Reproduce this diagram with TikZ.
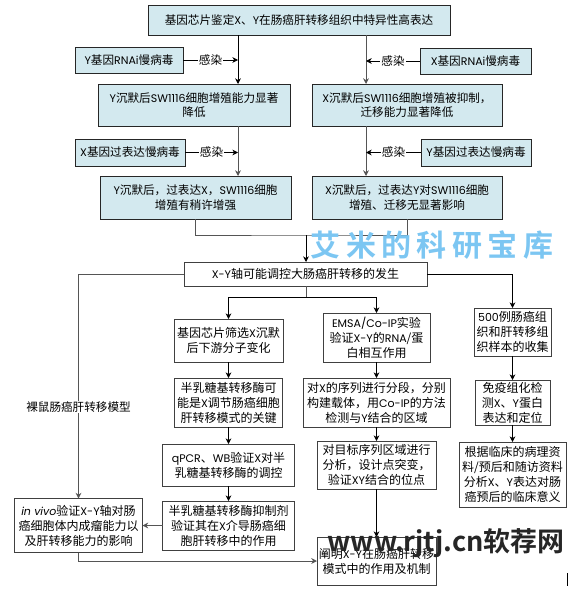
\documentclass[tikz,border=0pt]{standalone}
\usepackage{fontspec}
\usepackage{xcolor}
\usetikzlibrary{arrows.meta,positioning}
\setmainfont{Noto Sans CJK SC}
\newfontfamily\latinfont{Poppins}
\newfontfamily\markfont[LetterSpace=18]{Noto Sans CJK SC Bold}
\newfontfamily\webfont{Noto Sans CJK SC Bold}
\newcommand{\la}[1]{{\latinfont\fontsize{11}{15}\selectfont #1}}
\definecolor{flowblue}{HTML}{D3E9EF}
\definecolor{flowline}{HTML}{555555}
\definecolor{markblue}{HTML}{7CC6F2}
\tikzset{
  flowtop/.style={rectangle, draw=black!85, fill=flowblue, line width=0.9pt, outer sep=0pt, align=center, inner sep=0pt, font=\fontsize{11.6}{14.5}\selectfont},
  flowproc/.style={rectangle, draw=black!75, fill=white, line width=0.9pt, outer sep=0pt, align=center, inner sep=0pt, font=\fontsize{12}{15}\selectfont},
  flowlabel/.style={fill=white, inner sep=1pt, font=\fontsize{11.6}{15}\selectfont},
  flowarrow/.style={-{Stealth[length=2mm,width=2mm]}, line width=1pt, draw=flowline},
  flowthin/.style={-{Stealth[length=2mm,width=2mm]}, line width=0.8pt, draw=black},
  flowjoin/.style={line width=1pt, draw=flowline}
}
\begin{document}
\begin{tikzpicture}[x=1pt,y=-1pt]
\useasboundingbox (0,0) rectangle (568,589);
% upper tier
\node[flowtop, minimum width=302pt, minimum height=30pt] (chip) at (299,20) {基因芯片鉴定\la{X}、\la{Y}在肠癌肝转移组织中特异性高表达};
\node[flowtop, minimum width=192pt, minimum height=42pt, below=49pt of chip, xshift=-105pt] (ysil) {\la{Y}沉默后\la{SW1116}细胞增殖能力显著\\降低};
\node[flowtop, minimum width=190pt, minimum height=42pt, below=49pt of chip, xshift=108pt] (xsil) {\la{X}沉默后\la{SW1116}细胞增殖被抑制，\\迁移能力显著降低};
\node[flowtop, minimum width=191pt, minimum height=43pt, below=50pt of ysil, xshift=1.5pt] (yres) {\la{Y}沉默后，过表达\la{X}，\la{SW1116}细胞\\增殖有稍许增强};
\node[flowtop, minimum width=190pt, minimum height=43pt, below=50pt of xsil] (xres) {\la{X}沉默后，过表达\la{Y}对\la{SW1116}细胞\\增殖、迁移无显著影响};
% virus boxes
\node[flowtop, minimum width=108pt, minimum height=26pt, below=12pt of chip, xshift=-170pt] (yrnai) {\la{Y}基因\la{RNAi}慢病毒};
\node[flowtop, minimum width=111pt, minimum height=26pt, below=13pt of chip, xshift=176.5pt] (xrnai) {\la{X}基因\la{RNAi}慢病毒};
\node[flowtop, minimum width=110pt, minimum height=27pt, below=13pt of ysil, xshift=-64pt] (xover) {\la{X}基因过表达慢病毒};
\node[flowtop, minimum width=110pt, minimum height=27pt, below=13pt of xsil, xshift=69pt] (yover) {\la{Y}基因过表达慢病毒};
% lower tier
\node[flowproc, minimum width=243pt, minimum height=24pt, below=43pt of yres, xshift=110pt] (axis) {\la{X-Y}轴可能调控大肠癌肝转移的发生};
\node[flowproc, minimum width=109pt, minimum height=43pt, below=33pt of axis, xshift=-77pt] (screen) {基因芯片筛选\la{X}沉默\\后下游分子变化};
\node[flowproc, minimum width=108pt, minimum height=49pt, below=16pt of screen] (gal) {半乳糖基转移酶可\\能是\la{X}调节肠癌细胞\\肝转移模式的关键};
\node[flowproc, minimum width=132pt, minimum height=42pt, below=17pt of gal] (qpcr) {\la{qPCR}、\la{WB}验证\la{X}对半\\乳糖基转移酶的调控};
\node[flowproc, minimum width=132pt, minimum height=49pt, below=15pt of qpcr] (inhib) {半乳糖基转移酶抑制剂\\验证其在\la{X}介导肠癌细\\胞肝转移中的作用};
\node[flowproc, minimum width=128pt, minimum height=54pt, left=20pt of inhib] (invivo) {{\latinfont\itshape\fontsize{11}{15}\selectfont in vivo}验证\la{X-Y}轴对肠\\癌细胞体内成瘤能力以\\及肝转移能力的影响};
\node[flowproc, minimum width=107pt, minimum height=49pt, below=27pt of axis, xshift=71pt] (emsa) {\la{EMSA/Co-IP}实验\\验证\la{X-Y}的\la{RNA}/蛋\\白相互作用};
\node[flowproc, minimum width=147pt, minimum height=49pt, below=16pt of emsa] (seg) {对\la{X}的序列进行分段，分别\\构建载体，用\la{Co-IP}的方法\\检测与\la{Y}结合的区域};
\node[flowproc, minimum width=119pt, minimum height=48pt, below=14pt of seg] (target) {对目标序列区域进行\\分析，设计点突变，\\验证\la{XY}结合的位点};
\node[flowproc, minimum width=119pt, minimum height=48pt, below=48pt of target] (final) {阐明\la{X-Y}在肠癌肝转移\\模式中的作用及机制};
\node[flowproc, minimum width=77pt, minimum height=48pt, below=22pt of axis, xshift=207pt] (cohort) {\la{500}例肠癌组\\织和肝转移组\\织样本的收集};
\node[flowproc, minimum width=75pt, minimum height=45pt, below=24pt of cohort] (immune) {免疫组化检\\测\la{X}、\la{Y}蛋白\\表达和定位};
\node[flowproc, minimum width=107pt, minimum height=65pt, below=17pt of immune] (clinic) {根据临床的病理资\\料/预后和随访资料\\分析\la{X}、\la{Y}表达对肠\\癌预后的临床意义};
% junctions
\coordinate (ltrunk) at (238,60);
\coordinate (rtrunk) at (366,61);
\coordinate (join) at (306,235);
\coordinate (split) at (306,297);
% connectors
\draw[flowthin] (chip.south -| ltrunk) -- (ysil.north -| ltrunk);
\draw[flowarrow] (chip.south -| rtrunk) -- (xsil.north -| rtrunk);
\draw[flowarrow] (ysil.south -| ltrunk) -- (yres.north -| ltrunk);
\draw[flowarrow] (xsil.south -| rtrunk) -- (xres.north -| rtrunk);
\draw[flowthin] (yrnai) -- node[flowlabel] (lbla) {感染} (yrnai -| ltrunk);
\draw[flowthin] (xrnai) -- node[flowlabel] (lblb) {感染} (xrnai -| rtrunk);
\draw[flowthin] (xover) -- node[flowlabel] (lblc) {感染} (xover -| ltrunk);
\draw[flowthin] (yover) -- node[flowlabel] (lbld) {感染} (yover -| rtrunk);
\draw[flowjoin] (yres.south) |- (join) -| (xres.south);
\draw[flowthin] (join) -- (axis.north -| join);
\draw[flowarrow] (axis.west) -| node[flowlabel, pos=0.796] (lble) {裸鼠肠癌肝转移模型} (invivo.north);
\draw[flowthin] (axis.east) -| (cohort.north);
\draw[flowjoin] (axis.south -| split) -- (split);
\draw[flowthin] (split) -| (screen.north);
\draw[flowthin] (split) -| (emsa.north);
\draw[flowthin] (screen) -- (gal);
\draw[flowthin] (gal) -- (qpcr);
\draw[flowthin] (qpcr) -- (inhib);
\draw[flowarrow] (inhib) -- (invivo);
\draw[flowarrow] (invivo.south) |- (final.west);
\draw[flowthin] (emsa) -- (seg);
\draw[flowthin] (seg) -- (target);
\draw[flowthin] (target) -- (final);
\draw[flowthin] (cohort) -- (immune);
\draw[flowthin] (immune) -- (clinic);
% overprinted marks
\node[text=markblue, font=\markfont\fontsize{30}{30}\selectfont, inner sep=0pt] (markup) at (432,245) {艾米的科研宝库};
\node[text=black!85, font=\webfont\fontsize{27}{30}\selectfont, inner sep=0pt] (marklow) at (446,543) {www.rjtj.cn软荐网};
\fill[black] (566.5,573) rectangle (568,586);
\end{tikzpicture}
\end{document}
